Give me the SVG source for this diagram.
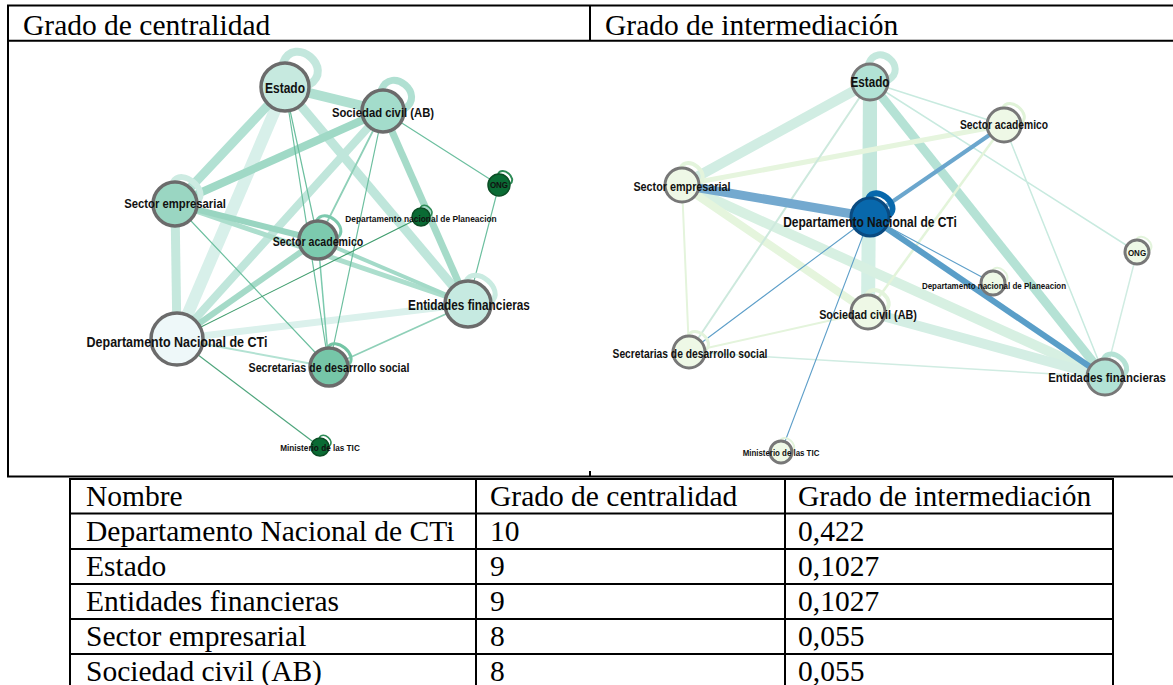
<svg xmlns="http://www.w3.org/2000/svg" width="1173" height="685" viewBox="0 0 1173 685">
<style>
.frame{stroke:#000;stroke-width:2;fill:none}
.hd{font-family:"Liberation Serif","Times New Roman",serif;font-size:29.5px;fill:#000}
.lb{font-family:"Liberation Sans",Arial,sans-serif;font-weight:bold;fill:#111;text-anchor:middle;dominant-baseline:central;transform-box:fill-box;transform-origin:center;transform:scaleY(1.18)}
.e{fill:none;stroke-linecap:butt}
.lp{fill:none}
.nl{stroke:#6b6b6b;stroke-width:3.5}
.nr{stroke:#777;stroke-width:3}
.dg{fill:#0a6b34;stroke:#0b4d24;stroke-width:1.5}
.rl{fill:#eef8e6}
</style>
<rect width="1173" height="685" fill="#fff"/>

<g id="frame">
<path class="frame" d="M7,5.5H1173M7,40.7H1173M8,5V477M590,5V41"/>
<path class="frame" d="M7,476.5H1173" stroke-width="1.6"/>
<path class="frame" d="M590,471V477" stroke-width="1"/>
<text class="hd" x="23" y="35">Grado de centralidad</text>
<text class="hd" x="605" y="35">Grado de intermediación</text>
</g>

<g id="table">
<path class="frame" d="M70,479H1113M70,513.5H1113M70,549H1113M70,584H1113M70,619H1113M70,654H1113M70,478V685M476,478V685M785,478V685M1113,478V685"/>
<text class="hd" x="86" y="506">Nombre</text>
<text class="hd" x="490" y="506">Grado de centralidad</text>
<text class="hd" x="798" y="506">Grado de intermediación</text>
<text class="hd" x="86" y="541">Departamento Nacional de CTi</text>
<text class="hd" x="490" y="541">10</text>
<text class="hd" x="798" y="541">0,422</text>
<text class="hd" x="86" y="576">Estado</text>
<text class="hd" x="490" y="576">9</text>
<text class="hd" x="798" y="576">0,1027</text>
<text class="hd" x="86" y="611">Entidades financieras</text>
<text class="hd" x="490" y="611">9</text>
<text class="hd" x="798" y="611">0,1027</text>
<text class="hd" x="86" y="646">Sector empresarial</text>
<text class="hd" x="490" y="646">8</text>
<text class="hd" x="798" y="646">0,055</text>
<text class="hd" x="86" y="681">Sociedad civil (AB)</text>
<text class="hd" x="490" y="681">8</text>
<text class="hd" x="798" y="681">0,055</text>
</g>

<g id="connectors-left">
<path class="e" d="M285,87L177,339" stroke="#d8f0ea" stroke-width="12"/>
<path class="e" d="M175,204L177,339" stroke="#c5e8dd" stroke-width="9"/>
<path class="e" d="M177,339L468,304" stroke="#dbf1ec" stroke-width="7"/>
<path class="e" d="M383,111L177,339" stroke="#c0e6db" stroke-width="8"/>
<path class="e" d="M285,87L468,304" stroke="#bfe6db" stroke-width="9"/>
<path class="e" d="M285,87L175,204" stroke="#b2e1d3" stroke-width="9"/>
<path class="e" d="M285,87L383,111" stroke="#b0e0d1" stroke-width="10"/>
<path class="e" d="M383,111L175,204" stroke="#a0d9c6" stroke-width="8"/>
<path class="e" d="M383,111L468,304" stroke="#a6dbc9" stroke-width="7"/>
<path class="e" d="M175,204L468,304" stroke="#acdecd" stroke-width="5"/>
<path class="e" d="M175,204L318,240" stroke="#99d5c1" stroke-width="6"/>
<path class="e" d="M318,240L177,339" stroke="#a5dac8" stroke-width="6"/>
<path class="e" d="M318,240L468,304" stroke="#a3dac8" stroke-width="4"/>
<path class="e" d="M285,87L318,240M285,87L329,367M383,111L329,367M383,111L499,185M175,204L329,367M499,185L468,304" stroke="#6cbf9f" stroke-width="1.2"/>
<path class="e" d="M383,111L318,240M329,367L468,304" stroke="#8fd0b8" stroke-width="1.8"/>
<path class="e" d="M318,240L329,367" stroke="#7ccaae" stroke-width="1.5"/>
<path class="e" d="M177,339L329,367" stroke="#b3e2d3" stroke-width="2"/>
<path class="e" d="M421,217L177,339" stroke="#3d9b6b" stroke-width="1.1"/>
<path class="e" d="M177,339L320,447" stroke="#4ea57c" stroke-width="1.2"/>
<path class="lp" d="M282.9,63.1C294.4,33.8 335.8,68.5 308.9,84.9" stroke="#c3e7dd" stroke-width="8"/>
<path class="lp" d="M381.2,90.1C391.2,64.7 427.2,94.9 403.9,109.2" stroke="#b0e0d2" stroke-width="7"/>
<path class="lp" d="M173.1,182.1C181.6,166.6 210.7,191 196.9,202.1" stroke="#cdebe2" stroke-width="6"/>
<path class="lp" d="M316.3,221.1C324.1,205.5 350.9,228 336.9,238.3" stroke="#7cc9ae" stroke-width="3"/>
<path class="lp" d="M466,281.1C475.1,263.6 506.5,290 490.9,302" stroke="#c9ebe1" stroke-width="5"/>
<path class="lp" d="M327.3,348.1C334.7,334.5 360,355.7 347.9,365.3" stroke="#74c5a5" stroke-width="3"/>
<path class="lp" d="M498,174C502.5,165.3 517.8,178.2 510,184" stroke="#2e8b57" stroke-width="2"/>
<path class="lp" d="M420.2,208C424,200.3 437,211.2 430,216.2" stroke="#2e8b57" stroke-width="1.5"/>
<path class="lp" d="M319.2,438C323,430.3 336,441.2 329,446.2" stroke="#2e8b57" stroke-width="1.5"/>
</g>

<g id="connectors-right">
<path class="e" d="M870,82L868,312" stroke="#d3efe5" stroke-width="14"/>
<path class="e" d="M870,82L870,217" stroke="#c3e7dc" stroke-width="14"/>
<path class="e" d="M682,185L1105,377" stroke="#d7f0e2" stroke-width="10"/>
<path class="e" d="M868,312L1105,377" stroke="#d4eee4" stroke-width="10"/>
<path class="e" d="M682,185L868,312" stroke="#e5f5dd" stroke-width="8"/>
<path class="e" d="M870,82L682,185" stroke="#d1ede3" stroke-width="10"/>
<path class="e" d="M870,82L1105,377" stroke="#b5e2d5" stroke-width="9"/>
<path class="e" d="M1004,125L682,185" stroke="#e6f5de" stroke-width="5"/>
<path class="e" d="M870,82L1004,125M870,82L1137,252M1004,125L1105,377" stroke="#c8eadf" stroke-width="1.5"/>
<path class="e" d="M870,82L689,352" stroke="#cde9dd" stroke-width="2"/>
<path class="e" d="M1004,125L868,312" stroke="#e3f4da" stroke-width="2.5"/>
<path class="e" d="M682,185L689,352M868,312L689,352" stroke="#e4f4dc" stroke-width="2"/>
<path class="e" d="M689,352L1105,377M1137,252L1105,377" stroke="#d0ece2" stroke-width="1.5"/>
<path class="e" d="M682,185L870,217" stroke="#74a9cf" stroke-width="9"/>
<path class="e" d="M1004,125L870,217" stroke="#6ba6cd" stroke-width="4"/>
<path class="e" d="M870,217L1105,377" stroke="#5a9ec8" stroke-width="6"/>
<path class="e" d="M870,217L993,283M870,217L689,352M870,217L781,452" stroke="#5e9fc9" stroke-width="1.1"/>
<path class="lp" d="M868.4,64.1C877.3,40.6 909.5,67.6 887.9,80.4" stroke="#c4e8dd" stroke-width="7"/>
<path class="lp" d="M1002.5,108.1C1009.4,94.5 1033.1,114.4 1020.9,123.5" stroke="#e0f3d8" stroke-width="3"/>
<path class="lp" d="M680.5,168.1C687.6,153.5 712.1,174.1 698.9,183.5" stroke="#e3f4dc" stroke-width="4"/>
<path class="lp" d="M868.3,198.1C875.9,183.5 902,205.4 888.9,215.3" stroke="#0868ac" stroke-width="6"/>
<path class="lp" d="M992,271C996.8,261.3 1013.7,275.5 1005,282" stroke="#e3f4dc" stroke-width="2"/>
<path class="lp" d="M866.5,295.1C873.6,280.5 898.1,301.1 884.9,310.5" stroke="#e3f4dc" stroke-width="4"/>
<path class="lp" d="M687.6,336.1C694.2,322.5 717.2,341.7 704.9,350.6" stroke="#e3f4dc" stroke-width="3"/>
<path class="lp" d="M1103.4,359.1C1110.7,344.5 1136,365.7 1122.9,375.4" stroke="#b5e2d5" stroke-width="5"/>
<path class="lp" d="M1136,240C1140.8,230.3 1157.7,244.5 1149,251" stroke="#e3f4dc" stroke-width="2"/>
<path class="lp" d="M780,441C784.5,432.3 799.8,445.2 792,451" stroke="#e3f4dc" stroke-width="2"/>
</g>

<g id="nodes-left">
<g id="L-estado"><circle class="nl" cx="285" cy="87" r="24" fill="#c6e9df"/><text class="lb" x="285" y="88" font-size="12">Estado</text></g>
<g id="L-sociedad"><circle class="nl" cx="383" cy="111" r="21" fill="#a3dccb"/><text class="lb" x="383" y="113" font-size="11.3">Sociedad civil (AB)</text></g>
<g id="L-empresarial"><circle class="nl" cx="175" cy="204" r="22" fill="#9ad6c2"/><text class="lb" x="175" y="204" font-size="11.3">Sector empresarial</text></g>
<g id="L-ong"><circle class="dg" cx="499" cy="185" r="11"/><text class="lb" x="499" y="185" font-size="8">ONG</text></g>
<g id="L-dnp"><circle class="dg" cx="421" cy="217" r="9"/><text class="lb" x="421" y="219" font-size="8.4">Departamento nacional de Planeacion</text></g>
<g id="L-academico"><circle class="nl" cx="318" cy="240" r="19" fill="#7ccaae"/><text class="lb" x="318" y="242" font-size="10.6">Sector academico</text></g>
<g id="L-entidades"><circle class="nl" cx="468" cy="304" r="23" fill="#c6eae1"/><text class="lb" x="469" y="305" font-size="11.8">Entidades financieras</text></g>
<g id="L-dncti"><circle class="nl" cx="177" cy="339" r="26" fill="#eef8f9"/><text class="lb" x="177" y="342" font-size="12.5">Departamento Nacional de CTi</text></g>
<g id="L-secretarias"><circle class="nl" cx="329" cy="367" r="19" fill="#76c6a8"/><text class="lb" x="329" y="367" font-size="10.7">Secretarias de desarrollo social</text></g>
<g id="L-mintic"><circle class="dg" cx="320" cy="447" r="9"/><text class="lb" x="320" y="448" font-size="8.2">Ministerio de las TIC</text></g>
</g>

<g id="nodes-right">
<g id="R-estado"><circle class="nr" cx="870" cy="82" r="18" fill="#b2e2d5"/><text class="lb" x="870" y="82" font-size="11.7">Estado</text></g>
<g id="R-academico"><circle class="nr rl" cx="1004" cy="125" r="17"/><text class="lb" x="1004" y="125" font-size="10.3">Sector academico</text></g>
<g id="R-empresarial"><circle class="nr rl" cx="682" cy="185" r="17"/><text class="lb" x="682" y="187" font-size="10.8">Sector empresarial</text></g>
<g id="R-dncti"><circle cx="870" cy="217" r="19" fill="#0868ac" stroke="#0a4a80" stroke-width="3"/><text class="lb" x="870" y="222" font-size="12">Departamento Nacional de CTi</text></g>
<g id="R-ong"><circle class="nr rl" cx="1137" cy="252" r="12"/><text class="lb" x="1137" y="253" font-size="8">ONG</text></g>
<g id="R-dnp"><circle class="nr rl" cx="993" cy="283" r="12"/><text class="lb" x="994" y="286" font-size="8">Departamento nacional de Planeacion</text></g>
<g id="R-sociedad"><circle class="nr rl" cx="868" cy="312" r="17"/><text class="lb" x="868" y="315" font-size="10.8">Sociedad civil (AB)</text></g>
<g id="R-secretarias"><circle class="nr rl" cx="689" cy="352" r="16"/><text class="lb" x="690" y="354" font-size="10.3">Secretarias de desarrollo social</text></g>
<g id="R-entidades"><circle class="nr" cx="1105" cy="377" r="18" fill="#b2e2d5"/><text class="lb" x="1107" y="378" font-size="11.4">Entidades financieras</text></g>
<g id="R-mintic"><circle class="nr rl" cx="781" cy="452" r="11"/><text class="lb" x="781" y="453" font-size="7.9">Ministerio de las TIC</text></g>
</g>
</svg>
